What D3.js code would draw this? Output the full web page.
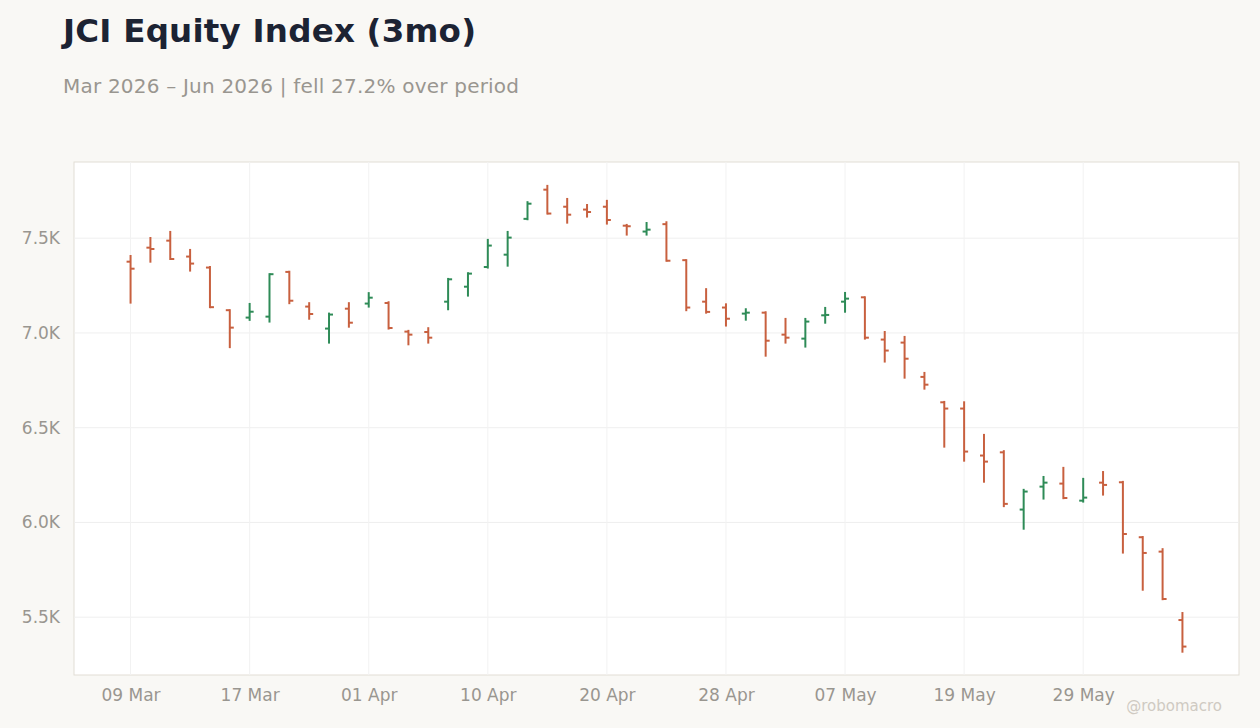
<!DOCTYPE html>
<html><head><meta charset="utf-8">
<script src="https://cdn.jsdelivr.net/npm/d3@7"></script>
<style>body{margin:0;background:#f9f8f5;font-family:"DejaVu Sans",sans-serif;}</style>
</head><body><svg id="c" width="1260" height="728"></svg>
<script>
const dates=["2026-03-09","2026-03-10","2026-03-11","2026-03-12","2026-03-13","2026-03-16","2026-03-17","2026-03-18","2026-03-19","2026-03-20","2026-03-30","2026-03-31","2026-04-01","2026-04-02","2026-04-06","2026-04-07","2026-04-08","2026-04-09","2026-04-10","2026-04-13","2026-04-14","2026-04-15","2026-04-16","2026-04-17","2026-04-20","2026-04-21","2026-04-22","2026-04-23","2026-04-24","2026-04-27","2026-04-28","2026-04-29","2026-04-30","2026-05-04","2026-05-05","2026-05-06","2026-05-07","2026-05-08","2026-05-11","2026-05-12","2026-05-13","2026-05-18","2026-05-19","2026-05-20","2026-05-21","2026-05-25","2026-05-26","2026-05-27","2026-05-29","2026-06-01","2026-06-02","2026-06-03","2026-06-04","2026-06-05"];
const open =[7376,7450,7487,7403,7345,7120,7081,7086,7322,7139,7023,7128,7155,7158,7007,7005,7165,7244,7348,7413,7602,7756,7666,7651,7666,7566,7535,7574,7384,7165,7134,7102,7107,6991,6970,7093,7165,7188,6965,6949,6768,6634,6601,6353,6370,6068,6189,6205,6115,6210,6212,5922,5846,5485];
const high =[7406,7501,7533,7438,7348,7120,7153,7310,7323,7157,7102,7157,7210,7162,7011,7025,7285,7315,7491,7533,7690,7776,7707,7675,7697,7570,7580,7584,7384,7231,7151,7125,7109,7074,7074,7132,7211,7188,7005,6979,6789,6636,6634,6462,6376,6172,6240,6288,6230,6266,6214,5923,5859,5522];
const low  =[7160,7376,7390,7329,7136,6925,7069,7060,7157,7075,6949,7033,7139,7023,6940,6949,7125,7197,7345,7355,7600,7630,7582,7614,7577,7519,7519,7381,7120,7107,7039,7070,6880,6949,6928,7054,7112,6970,6849,6764,6706,6400,6326,6215,6086,5967,6126,6128,6110,6147,5841,5645,5595,5318];
const close=[7339,7443,7390,7366,7136,7028,7112,7310,7170,7100,7097,7054,7186,7026,6991,6975,7283,7313,7461,7503,7682,7630,7624,7638,7596,7563,7545,7381,7134,7111,7075,7107,6959,6975,7060,7095,7181,6975,6907,6864,6727,6601,6374,6321,6098,6163,6210,6129,6131,6198,5939,5839,5596,5345];
const yTicks=[5500,6000,6500,7000,7500];
const tickIdx=[0,6,12,18,24,30,36,42,48];

const svg=d3.select("#c");
const L=74,R=1239,T=162,B=675;
const fmtD=d3.timeFormat("%d %b"), parse=d3.timeParse("%Y-%m-%d");
const x=d3.scalePoint().domain(dates).range([L,R]).padding(2.85);
const y=d3.scaleLinear().domain([5195,7902]).range([B,T]);
const red="#c8603f", green="#2e8b57";

svg.append("text").attr("x",63).attr("y",42).attr("font-size",32.5).attr("font-weight","bold").attr("fill","#1c2333").attr("textLength",413).text("JCI Equity Index (3mo)");
svg.append("text").attr("x",63).attr("y",93).attr("font-size",20).attr("fill","#999690").attr("textLength",456).text("Mar 2026 – Jun 2026 | fell 27.2% over period");
svg.append("rect").attr("x",L).attr("y",T).attr("width",R-L).attr("height",B-T).attr("fill","#fff").attr("stroke","#e2ddd5");

const g=svg.append("g");
g.selectAll(".hg").data(yTicks).join("line").attr("x1",L).attr("x2",R).attr("y1",d=>y(d)).attr("y2",d=>y(d)).attr("stroke","#efefef");
g.selectAll(".vg").data(tickIdx).join("line").attr("y1",T).attr("y2",B).attr("x1",i=>x(dates[i])).attr("x2",i=>x(dates[i])).attr("stroke","#f2f2f2");

const ya=svg.append("g").attr("transform",`translate(${L},0)`).call(d3.axisLeft(y).tickValues(yTicks).tickSize(0).tickPadding(14).tickFormat(d=>(d/1000).toFixed(1)+"K"));
const xa=svg.append("g").attr("transform",`translate(0,${B})`).call(d3.axisBottom(x).tickValues(tickIdx.map(i=>dates[i])).tickSize(0).tickPadding(14).tickFormat(d=>fmtD(parse(d))));
[ya,xa].forEach(a=>{a.select(".domain").remove();a.selectAll("text").attr("font-size",17).attr("fill","#999690").attr("font-family","DejaVu Sans");});

const bars=g.selectAll(".b").data(dates.map((d,i)=>({d,o:open[i],h:high[i],l:low[i],c:close[i]}))).join("g").attr("stroke",d=>d.c>=d.o?green:red).attr("stroke-width",2);
bars.append("line").attr("x1",d=>x(d.d)).attr("x2",d=>x(d.d)).attr("y1",d=>y(d.h)-1).attr("y2",d=>y(d.l)+1);
bars.append("line").attr("x1",d=>x(d.d)-4).attr("x2",d=>x(d.d)).attr("y1",d=>y(d.o)).attr("y2",d=>y(d.o));
bars.append("line").attr("x1",d=>x(d.d)).attr("x2",d=>x(d.d)+4).attr("y1",d=>y(d.c)).attr("y2",d=>y(d.c));

svg.append("text").attr("x",1222).attr("y",711).attr("text-anchor","end").attr("font-size",15).attr("fill","#cfcac2").text("@robomacro");
</script></body></html>
